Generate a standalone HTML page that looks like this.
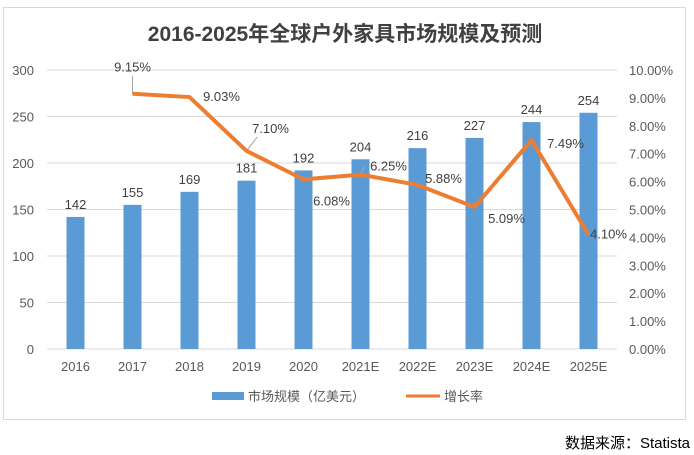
<!DOCTYPE html>
<html><head><meta charset="utf-8"><style>
body{margin:0;background:#fff;}
svg{display:block;font-family:"Liberation Sans","Noto Sans CJK SC",sans-serif;}
</style></head><body>
<svg id="c" width="694" height="455" viewBox="0 0 694 455">
<rect x="3.5" y="7.5" width="682" height="412" fill="#fff" stroke="#d9d9d9"/>
<text x="345" y="41" text-anchor="middle" font-size="21" font-weight="bold" fill="#404040">2016-2025年全球户外家具市场规模及预测</text>
<g id="grid"></g><g id="bars"></g><g id="leaders"></g><g id="line"></g><g id="labels"></g>
<g>
<rect x="212" y="392" width="32" height="8" fill="#5b9bd5"/>
<text x="248" y="401" font-size="13" fill="#595959">市场规模（亿美元）</text>
<line x1="406" y1="396" x2="440" y2="396" stroke="#ed7d31" stroke-width="3"/>
<text x="444" y="401" font-size="13" fill="#595959">增长率</text>
</g>
<text x="690" y="448" text-anchor="end" font-size="15" fill="#000">数据来源：Statista</text>
</svg>
<script>
const categories=["2016","2017","2018","2019","2020","2021E","2022E","2023E","2024E","2025E"];
const marketSize=[142,155,169,181,192,204,216,227,244,254];
const growth=[null,9.15,9.03,7.10,6.08,6.25,5.88,5.09,7.49,4.10];
const leftTicks=[0,50,100,150,200,250,300];
const rightTicks=[0,1,2,3,4,5,6,7,8,9,10];
const NS="http://www.w3.org/2000/svg";
const x0=47,x1=617,y0=349,y1=70;
const step=(x1-x0)/categories.length;
const xc=i=>x0+step*(i+0.5);
const yL=v=>y0-(v/300)*(y0-y1);
const yR=v=>y0-(v/10)*(y0-y1);
function mk(t,a,p){const e=document.createElementNS(NS,t);for(const k in a)e.setAttribute(k,a[k]);p.appendChild(e);return e;}
const g=document.getElementById('grid');
leftTicks.forEach(v=>{
 const l=mk('line',{x1:x0,x2:x1,y1:yL(v),y2:yL(v),stroke:'#d9d9d9'},g);
 
 
 const t=mk('text',{x:34,y:yL(v)+5,'text-anchor':'end','font-size':13,fill:'#595959'},g);t.textContent=v;
 
 
});
rightTicks.forEach(v=>{
 const t=mk('text',{x:629,y:yR(v)+5,'font-size':13,fill:'#595959'},g);t.textContent=v.toFixed(2)+'%';
 
 
});
categories.forEach((c,i)=>{
 const t=mk('text',{x:xc(i),y:371,'text-anchor':'middle','font-size':13,fill:'#595959'},g);t.textContent=c;
 
 
});
const b=document.getElementById('bars');const lb=document.getElementById('labels');
marketSize.forEach((v,i)=>{
 const r=mk('rect',{x:xc(i)-9,y:yL(v),width:18,height:y0-yL(v),fill:'#5b9bd5'},b);
 
 
 const t=mk('text',{x:xc(i),y:yL(v)-8,'text-anchor':'middle','font-size':13,fill:'#404040'},lb);t.textContent=v;
 
 
});
let pts=[];growth.forEach((v,i)=>{if(v!=null)pts.push(xc(i)+','+yR(v));});
const pl=mk('polyline',{points:pts.join(' '),fill:'none',stroke:'#ed7d31','stroke-width':4,'stroke-linejoin':'round'},document.getElementById('line'));


const off=[null,[0,-22],[32,4],[24,-18],[28,26],[28,-4],[26,-2],[32,16],[34,8],[20,4]];
const leaderIdx=[1,3,5];
const ld=document.getElementById('leaders');
leaderIdx.forEach(i=>{
 const px=xc(i),py=yR(growth[i]);
 const tx=px+off[i][0]*0.45,ty=py+off[i][1]+4;
 const l=mk('line',{x1:px,y1:py,x2:i===5?px+4:tx,y2:i===5?py-8:ty,stroke:'#a6a6a6','stroke-width':1},ld);
 
 
});
growth.forEach((v,i)=>{if(v==null)return;
 const t=mk('text',{x:xc(i)+off[i][0],y:yR(v)+off[i][1],'text-anchor':'middle','font-size':13,fill:'#404040'},lb);t.textContent=v.toFixed(2)+'%';
 
 
});
</script>
</body></html>
